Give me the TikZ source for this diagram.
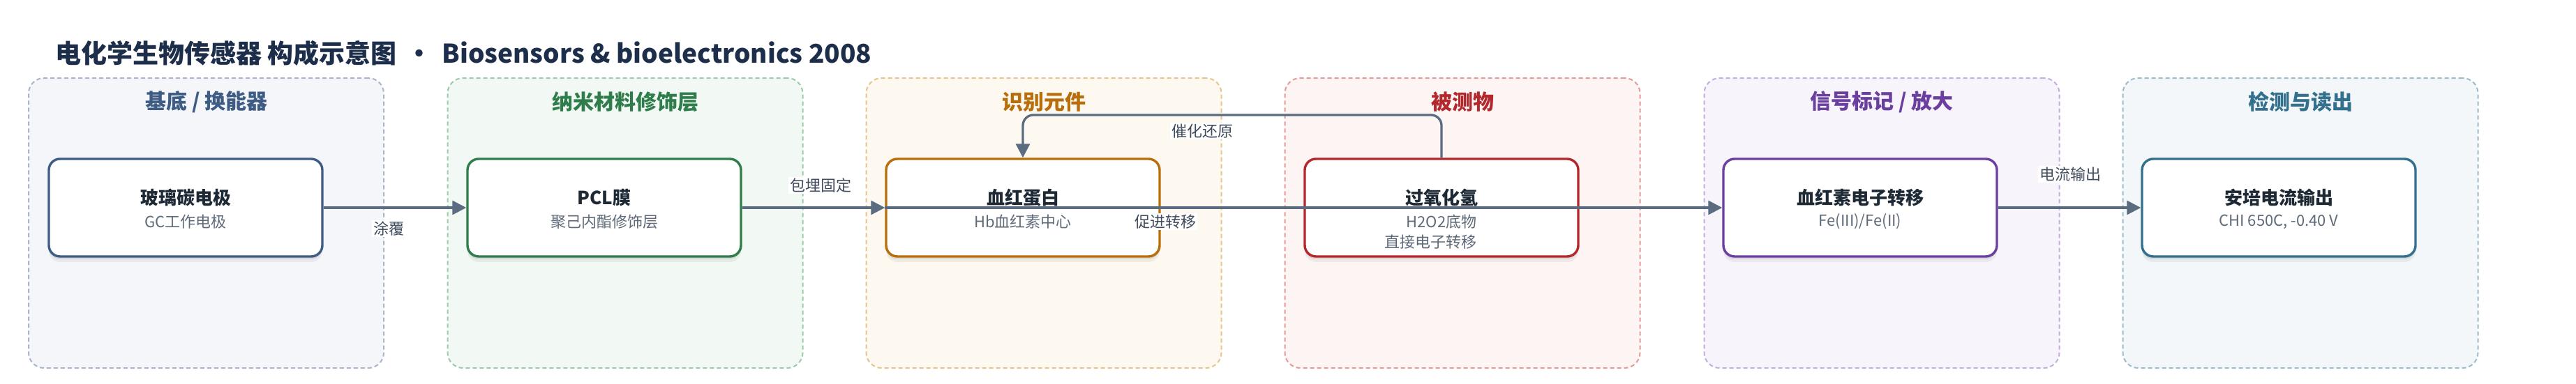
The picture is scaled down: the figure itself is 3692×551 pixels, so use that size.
\documentclass[tikz,border=0pt]{standalone}
\usepackage{fontspec}
\setmainfont{Noto Sans CJK SC}
\usetikzlibrary{arrows.meta,shadows}
\definecolor{gAfill}{HTML}{F4F6FA}\definecolor{gAline}{HTML}{A9B5CA}\definecolor{gAacc}{HTML}{3E5C84}
\definecolor{gBfill}{HTML}{F2F8F4}\definecolor{gBline}{HTML}{9CCBAA}\definecolor{gBacc}{HTML}{2E7D4A}
\definecolor{gCfill}{HTML}{FDF9F1}\definecolor{gCline}{HTML}{E6C48E}\definecolor{gCacc}{HTML}{B86E0A}
\definecolor{gDfill}{HTML}{FDF4F4}\definecolor{gDline}{HTML}{E59A9A}\definecolor{gDacc}{HTML}{B3282D}
\definecolor{gEfill}{HTML}{F7F4FB}\definecolor{gEline}{HTML}{C4ADDF}\definecolor{gEacc}{HTML}{6A3FA0}
\definecolor{gFfill}{HTML}{F3F7F9}\definecolor{gFline}{HTML}{9DBCCB}\definecolor{gFacc}{HTML}{33708E}
\definecolor{edgec}{HTML}{5B6B80}
\definecolor{labc}{HTML}{3F4B5B}
\definecolor{titc}{HTML}{1E2936}
\definecolor{subc}{HTML}{5E6A78}
\definecolor{headc}{HTML}{1C2E4A}
\begin{document}
\begin{tikzpicture}[x=1pt,y=-1pt,
  grp/.style={draw, line width=2pt, dash pattern=on 6pt off 4pt, rounded corners=22pt,
    minimum width=509pt, minimum height=416pt, inner sep=0pt},
  grptitle/.style={font=\fontsize{30}{34}\selectfont\bfseries, inner sep=0pt},
  box/.style={draw, fill=white, line width=3.4pt, rounded corners=16pt,
    minimum width=392pt, minimum height=140pt, inner sep=0pt,
    drop shadow={shadow xshift=0pt, shadow yshift=-4pt, opacity=0.07, fill=black},
    drop shadow={shadow xshift=0pt, shadow yshift=-8pt, opacity=0.05, fill=black}},
  boxtitle/.style={font=\fontsize{26}{30}\selectfont\bfseries, text=titc, inner sep=0pt},
  boxsub/.style={font=\fontsize{22}{26}\selectfont, text=subc, inner sep=0pt},
  conn/.style={draw=edgec, line width=3.3pt, -{Triangle[length=20pt,width=20pt]}},
  elabel/.style={font=\fontsize{22}{26}\selectfont, text=labc, fill=white, inner sep=2pt}]
\useasboundingbox (0,0) rectangle (3692,551);
\fill[white] (0,0) rectangle (3692,551);
% title
\node[anchor=west, inner sep=0pt, text=headc, font=\fontsize{37}{41}\selectfont\bfseries] (head) at (79,76)
  {电化学生物传感器 构成示意图\hspace{14pt}•\hspace{14pt}Biosensors \& bioelectronics 2008};
% groups
\node[grp, fill=gAfill, draw=gAline] (g1) at (295.5,320) {};
\node[grp, fill=gBfill, draw=gBline] (g2) at (896,320) {};
\node[grp, fill=gCfill, draw=gCline] (g3) at (1496,320) {};
\node[grp, fill=gDfill, draw=gDline] (g4) at (2096,320) {};
\node[grp, fill=gEfill, draw=gEline] (g5) at (2697,320) {};
\node[grp, fill=gFfill, draw=gFline] (g6) at (3297,320) {};
\node[grptitle, text=gAacc] (t1) at (296,146) {基底 / 换能器};
\node[grptitle, text=gBacc] (t2) at (896,146) {纳米材料修饰层};
\node[grptitle, text=gCacc] (t3) at (1496,146) {识别元件};
\node[grptitle, text=gDacc] (t4) at (2096,146) {被测物};
\node[grptitle, text=gEacc] (t5) at (2697,146) {信号标记 / 放大};
\node[grptitle, text=gFacc] (t6) at (3297,146) {检测与读出};
% boxes
\node[box, draw=gAacc] (b1) at (266,298) {};
\node[box, draw=gBacc] (b2) at (866,298) {};
\node[box, draw=gCacc] (b3) at (1466,298) {};
\node[box, draw=gDacc] (b4) at (2066,298) {};
\node[box, draw=gEacc] (b5) at (2666,298) {};
\node[box, draw=gFacc] (b6) at (3266,298) {};
\node[boxtitle] (b1t) at (266,284) {玻璃碳电极};
\node[boxsub] (b1s) at (266,318) {GC工作电极};
\node[boxtitle] (b2t) at (866,284) {PCL膜};
\node[boxsub] (b2s) at (866,318) {聚己内酯修饰层};
\node[boxtitle] (b3t) at (1466,284) {血红蛋白};
\node[boxsub] (b3s) at (1466,318) {Hb血红素中心};
\node[boxtitle] (b4t) at (2066,284) {过氧化氢};
\node[boxsub] (b4s) at (2066,318) {H2O2底物};
\node[boxsub, anchor=east] (b4s2) at (2117,347) {直接电子转移};
\node[boxtitle] (b5t) at (2666,284) {血红素电子转移};
\node[boxsub] (b5s) at (2666,318) {Fe(III)/Fe(II)};
\node[boxtitle] (b6t) at (3266,284) {安培电流输出};
\node[boxsub] (b6s) at (3266,318) {CHI 650C, -0.40 V};
% connectors
\draw[conn] (b1.east) -- (b2.west);
\draw[conn] (b2.east) -- (b3.west);
\draw[conn] (b3.west) -- (b5.west);
\draw[conn, rounded corners=15pt] (b4.north) |- (1466,165) -- (b3.north);
\draw[conn] (b5.east) -- (b6.west);
\node[elabel] (l1) at (557,328) {涂覆};
\node[elabel] (l2) at (1176,266) {包埋固定};
\node[elabel] (l3) at (1670,318) {促进转移};
\node[elabel] (l4) at (1723,188) {催化还原};
\node[elabel] (l5) at (2967,250) {电流输出};
\end{tikzpicture}
\end{document}
